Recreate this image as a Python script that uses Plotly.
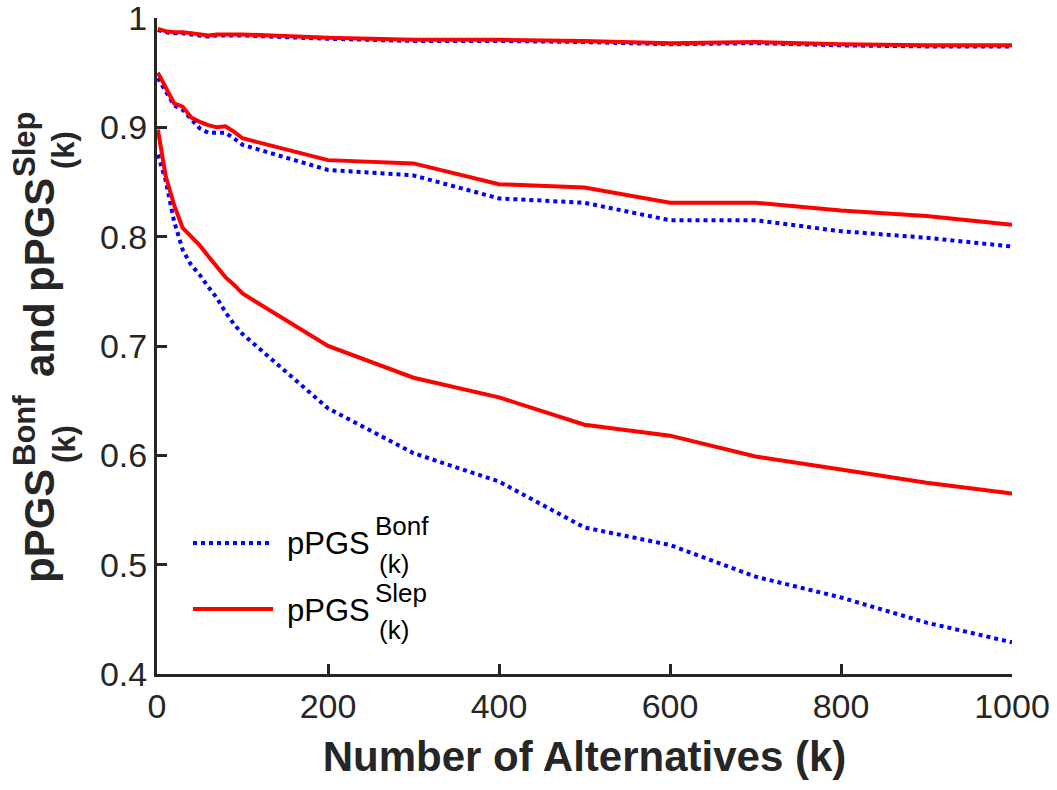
import plotly.graph_objects as go

# ---- data ----
k = [1, 10, 20, 30, 40, 50, 60, 70, 80, 90, 100, 200, 300, 400, 500, 600, 700, 800, 900, 1000]

bonf_high = [0.989, 0.987, 0.986, 0.986, 0.985, 0.984, 0.983, 0.984, 0.984, 0.984, 0.984, 0.981, 0.979, 0.979, 0.978, 0.976, 0.977, 0.975, 0.974, 0.974]
slep_high = [0.990, 0.988, 0.987, 0.987, 0.986, 0.985, 0.984, 0.985, 0.985, 0.985, 0.985, 0.982, 0.980, 0.980, 0.979, 0.977, 0.978, 0.976, 0.975, 0.975]

bonf_mid = [0.945, 0.933, 0.920, 0.916, 0.907, 0.899, 0.895, 0.895, 0.895, 0.890, 0.884, 0.861, 0.856, 0.835, 0.831, 0.815, 0.815, 0.805, 0.799, 0.791]
slep_mid = [0.950, 0.936, 0.922, 0.919, 0.909, 0.905, 0.902, 0.900, 0.901, 0.896, 0.890, 0.870, 0.867, 0.848, 0.845, 0.831, 0.831, 0.824, 0.819, 0.811]

bonf_low = [0.875, 0.852, 0.814, 0.788, 0.774, 0.765, 0.754, 0.744, 0.731, 0.720, 0.711, 0.643, 0.602, 0.576, 0.534, 0.518, 0.489, 0.470, 0.447, 0.429]
slep_low = [0.898, 0.856, 0.829, 0.808, 0.800, 0.792, 0.782, 0.773, 0.763, 0.756, 0.748, 0.700, 0.671, 0.653, 0.628, 0.618, 0.599, 0.587, 0.575, 0.565]

x_ticks = [0, 200, 400, 600, 800, 1000]
y_ticks = [0.4, 0.5, 0.6, 0.7, 0.8, 0.9, 1.0]
y_tick_text = ["0.4", "0.5", "0.6", "0.7", "0.8", "0.9", "1"]

BLUE = "#0000FF"
RED = "#FF0000"
AX = "#262626"
FONT = "Liberation Sans, Arial, Helvetica, sans-serif"

W, H = 1057, 790
L, R, T, B = 157, 45, 18, 116
PW, PH = W - L - R, H - T - B


def px(x):
    return (x - L) / PW


def py(y):
    return (H - B - y) / PH


fig = go.Figure()
for yb in [bonf_high, bonf_mid, bonf_low]:
    fig.add_trace(go.Scatter(x=k, y=yb, mode="lines", showlegend=False,
                             line=dict(color=BLUE, width=4, dash="dot")))
for ys in [slep_high, slep_mid, slep_low]:
    fig.add_trace(go.Scatter(x=k, y=ys, mode="lines", showlegend=False,
                             line=dict(color=RED, width=4)))

annotations = []


def add_text(text, x, y, size, bold=False, angle=0, color=AX, xanchor="center"):
    annotations.append(dict(
        text=text, x=px(x), y=py(y), xref="paper", yref="paper",
        showarrow=False, textangle=angle, xanchor=xanchor, yanchor="middle",
        font=dict(family=FONT, size=size, color=color, weight="bold" if bold else "normal"),
    ))


# y-axis title with stacked super/subscripts
TS, SS = 42, 31
add_text("pPGS", 39, 526, TS, True, -90)
add_text("Bonf", 24, 431, SS, True, -90)
add_text("(k)", 64, 444, SS, True, -90)
add_text("and", 39, 340, TS, True, -90)
add_text("pPGS", 39, 235, TS, True, -90)
add_text("Slep", 24, 145, SS, True, -90)
add_text("(k)", 64, 150, SS, True, -90)

# legend
LS, LSS = 31, 26
add_text("pPGS", 285, 543, LS, False, 0, "black", "left")
add_text("Bonf", 373, 526, LSS, False, 0, "black", "left")
add_text("(k)", 377, 564, LSS, False, 0, "black", "left")
add_text("pPGS", 285, 610, LS, False, 0, "black", "left")
add_text("Slep", 373, 593, LSS, False, 0, "black", "left")
add_text("(k)", 377, 630, LSS, False, 0, "black", "left")

shapes = [
    dict(type="line", xref="paper", yref="paper", x0=px(193), x1=px(271), y0=py(543), y1=py(543),
         line=dict(color=BLUE, width=4, dash="dot")),
    dict(type="line", xref="paper", yref="paper", x0=px(193), x1=px(273), y0=py(609), y1=py(609),
         line=dict(color=RED, width=4)),
]

fig.update_layout(
    width=W, height=H,
    margin=dict(l=L, r=R, t=T, b=B, pad=0, autoexpand=False),
    paper_bgcolor="white", plot_bgcolor="white",
    annotations=annotations, shapes=shapes,
    xaxis=dict(
        range=[0, 1000], tickvals=x_ticks, ticks="inside", ticklen=10, tickwidth=3, tickcolor=AX,
        showline=True, linewidth=3, linecolor=AX, showgrid=False, zeroline=False,
        ticklabeloverflow="allow", automargin=False,
        tickfont=dict(family=FONT, size=34, color=AX),
        title=dict(text="Number of Alternatives (k)", standoff=18,
                   font=dict(family=FONT, size=42, color=AX, weight="bold")),
    ),
    yaxis=dict(
        range=[0.4, 1.0], tickvals=y_ticks, ticktext=y_tick_text, ticks="inside", ticklen=10,
        tickwidth=3, tickcolor=AX, showline=True, linewidth=3, linecolor=AX,
        showgrid=False, zeroline=False, ticklabeloverflow="allow", automargin=False,
        tickfont=dict(family=FONT, size=34, color=AX),
    ),
)

fig.write_html("out.html", config={"displayModeBar": False},
               post_script="document.body.style.margin='0';")
